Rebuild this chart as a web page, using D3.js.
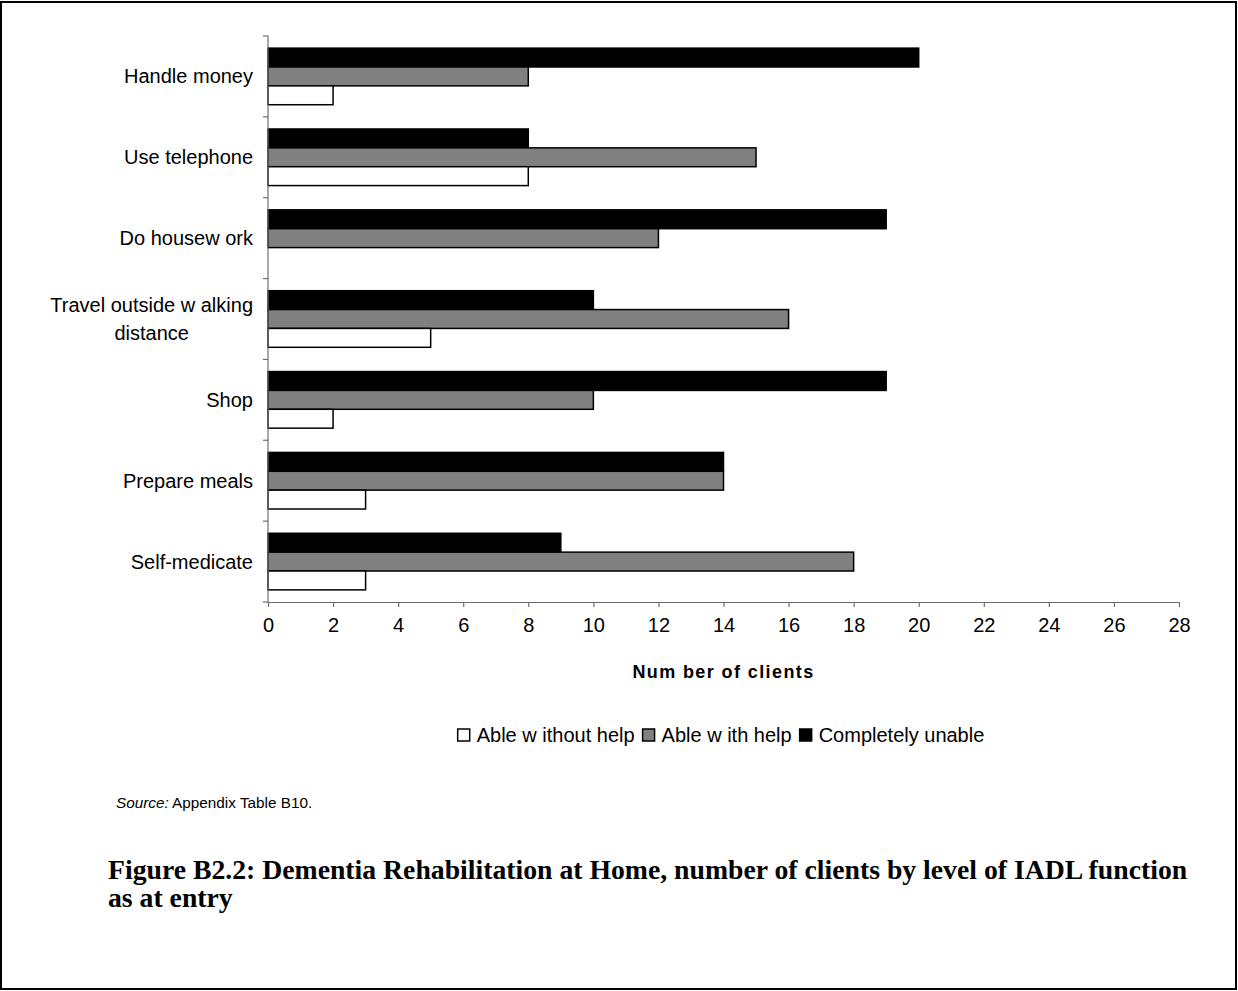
<!DOCTYPE html>
<html>
<head>
<meta charset="utf-8">
<script src="https://cdn.jsdelivr.net/npm/d3@7"></script>
<style>
  html, body { margin: 0; padding: 0; background: #fff; }
  svg { display: block; font-family: "Liberation Sans", Arial, sans-serif; }
</style>
</head>
<body>
<svg id="chart" width="1238" height="991"></svg>
<script>
// IADL activities, listed top to bottom
const categories = [
  "Handle money",
  "Use telephone",
  "Do housew ork",
  "Travel outside w alking|distance",
  "Shop",
  "Prepare meals",
  "Self-medicate"
];

// Number of clients per level of function
const ableWithoutHelp  = [2, 8, 0, 5, 2, 3, 3];
const ableWithHelp     = [8, 15, 12, 16, 10, 14, 18];
const completelyUnable = [20, 8, 19, 10, 19, 14, 9];

const seriesNames = ["Able w ithout help", "Able w ith help", "Completely unable"];
const seriesFills = ["#ffffff", "#808080", "#000000"];

const xTicks = d3.range(0, 29, 2);

const svg = d3.select("#chart");

// outer frame
svg.append("rect")
  .attr("x", 1).attr("y", 2).attr("width", 1235).attr("height", 987)
  .attr("fill", "none").attr("stroke", "#000").attr("stroke-width", 2);

const x = d3.scaleLinear().domain([0, 28]).range([268, 1179]);
const y = d3.scaleBand().domain(categories).range([36, 602])
  .paddingInner(0.3).paddingOuter(0.15);

// within each band: black on top, then grey, then white
const stackOrder = [2, 1, 0];
const values = [ableWithoutHelp, ableWithHelp, completelyUnable];
const inner = d3.scaleBand().domain(stackOrder).range([0, y.bandwidth()]);

const bars = [];
categories.forEach((c, i) => {
  stackOrder.forEach(s => {
    bars.push({ cat: c, s, v: values[s][i] });
  });
});

svg.append("g").selectAll("rect")
  .data(bars.filter(d => d.v > 0))
  .join("rect")
  .attr("x", x(0))
  .attr("y", d => y(d.cat) + inner(d.s))
  .attr("width", d => x(d.v) - x(0))
  .attr("height", inner.bandwidth())
  .attr("fill", d => seriesFills[d.s])
  .attr("stroke", "#000")
  .attr("stroke-width", 1.5);

// x axis
const xAxis = d3.axisBottom(x).tickValues(xTicks).tickSize(5).tickPadding(11).tickSizeOuter(0);
const gx = svg.append("g").attr("transform", "translate(0,602)").call(xAxis);
gx.select(".domain").attr("stroke", "#6e6e6e").attr("stroke-width", 1.2);
gx.selectAll(".tick line").attr("stroke", "#6e6e6e").attr("stroke-width", 1.2);
gx.selectAll(".tick text").attr("font-size", 20).attr("fill", "#000")
  .attr("font-family", "'Liberation Sans', Arial, sans-serif");

// y axis line with ticks on band boundaries
const gy = svg.append("g");
gy.append("line")
  .attr("x1", x(0)).attr("x2", x(0))
  .attr("y1", 36).attr("y2", 602)
  .attr("stroke", "#6e6e6e").attr("stroke-width", 1.2);
const boundaries = categories.map(c => y(c) - y.step() * y.paddingInner() / 2);
boundaries[0] = 36;
boundaries.push(602);
gy.selectAll(".yt").data(boundaries).join("line")
  .attr("class", "yt")
  .attr("x1", x(0) - 5).attr("x2", x(0))
  .attr("y1", d => d).attr("y2", d => d)
  .attr("stroke", "#6e6e6e").attr("stroke-width", 1.2);

// category labels (multi-line labels centred as a block, right edge at 253)
categories.forEach(c => {
  const lines = c.split("|");
  const cy = y(c) + y.bandwidth() / 2;
  const t = svg.append("text")
    .attr("font-size", 20).attr("fill", "#000");
  lines.forEach((ln, k) => {
    t.append("tspan").text(ln)
      .attr("y", cy + (k - (lines.length - 1) / 2) * 28)
      .attr("dy", "0.35em");
  });
  if (lines.length === 1) {
    t.attr("text-anchor", "end").selectAll("tspan").attr("x", 253);
  } else {
    let w = 0;
    t.selectAll("tspan").each(function () { w = Math.max(w, this.getComputedTextLength()); });
    t.attr("text-anchor", "middle").selectAll("tspan").attr("x", 253 - w / 2);
  }
});

// axis title
svg.append("text")
  .attr("x", (x(0) + x(28)) / 2).attr("y", 678)
  .attr("text-anchor", "middle")
  .attr("font-size", 18).attr("font-weight", "bold")
  .attr("letter-spacing", 1.4)
  .text("Num ber of clients");

// legend
const legend = svg.append("g");
let lx = 0;
seriesNames.forEach((name, i) => {
  const g = legend.append("g").attr("transform", `translate(${lx},0)`);
  g.append("rect").attr("x", 0).attr("y", -6).attr("width", 12).attr("height", 12)
    .attr("fill", seriesFills[i]).attr("stroke", "#000").attr("stroke-width", 1.5);
  const t = g.append("text").attr("x", 19).attr("y", 0).attr("dy", "0.35em")
    .attr("font-size", 20).text(name);
  lx += 19 + t.node().getComputedTextLength() + 8;
});
legend.attr("transform", `translate(${721 - (lx - 8) / 2},735)`);

// source note
const src = svg.append("text").attr("x", 116).attr("y", 808).attr("font-size", 15.3);
src.append("tspan").attr("font-style", "italic").text("Source:");
src.append("tspan").text(" Appendix Table B10.");

// figure caption
const capLines = [
  "Figure B2.2: Dementia Rehabilitation at Home, number of clients by level of IADL function",
  "as at entry"
];
const cap = svg.append("g")
  .attr("font-family", "'Liberation Serif', 'Times New Roman', serif")
  .attr("font-weight", "bold");
const t0 = cap.append("text").attr("x", 108).attr("y", 879).attr("font-size", 22).text(capLines[0]);
const fs = 22 * 1080 / t0.node().getComputedTextLength();
t0.attr("font-size", fs);
cap.append("text").attr("x", 108).attr("y", 907).attr("font-size", fs).text(capLines[1]);
</script>
</body>
</html>
